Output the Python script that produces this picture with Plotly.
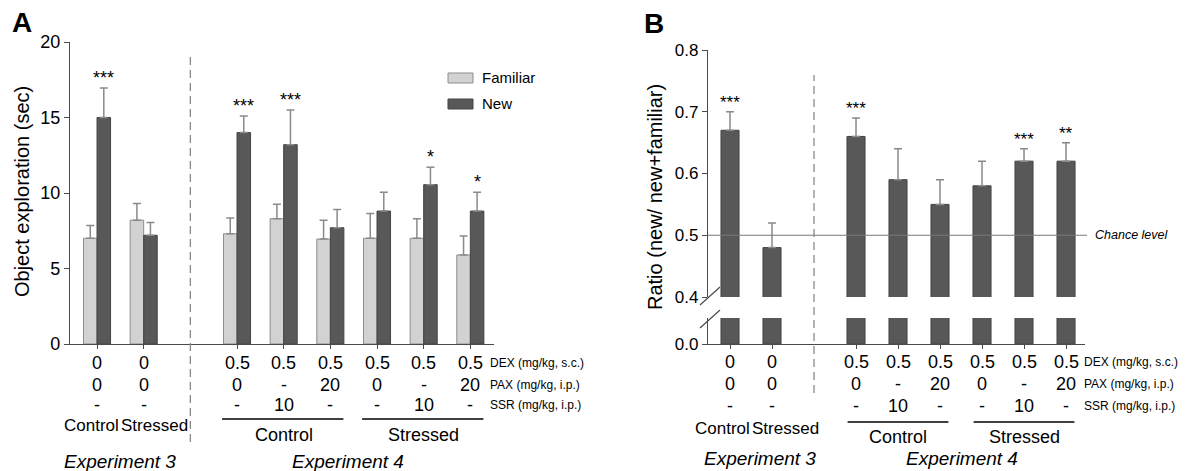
import plotly.graph_objects as go

# ---------------- data ----------------
groups_exp3 = ["Control", "Stressed"]
dex = ["0", "0", "0.5", "0.5", "0.5", "0.5", "0.5", "0.5"]
pax = ["0", "0", "0", "-", "20", "0", "-", "20"]
ssr = ["-", "-", "-", "10", "-", "-", "10", "-"]
row_labels = ["DEX (mg/kg, s.c.)", "PAX (mg/kg, i.p.)", "SSR (mg/kg, i.p.)"]
series_names = ["Familiar", "New"]

familiar = [7.0, 8.2, 7.3, 8.3, 6.95, 7.0, 7.0, 5.9]
familiar_err = [0.85, 1.1, 1.05, 0.95, 1.25, 1.65, 1.3, 1.25]
new = [15.0, 7.2, 14.0, 13.2, 7.7, 8.8, 10.55, 8.8]
new_err = [1.95, 0.85, 1.1, 2.3, 1.2, 1.25, 1.15, 1.25]
stars_a = ["***", "", "***", "***", "", "", "*", "*"]

ratio = [0.67, 0.48, 0.66, 0.59, 0.55, 0.58, 0.62, 0.62]
ratio_err = [0.03, 0.04, 0.03, 0.05, 0.04, 0.04, 0.02, 0.03]
stars_b = ["***", "", "***", "", "", "", "***", "**"]
chance = 0.5

# ---------------- layout helpers ----------------
W, H = 1198, 471
OFF = 8  # page body margin offsets the figure in the browser window
FONT = "Liberation Sans, Arial, Helvetica, sans-serif"
def fx(px):
    return (px - OFF) / W
def fy(py):
    return 1 - (py - OFF) / H

pos = [0, 1, 3, 4, 5, 6, 7, 8]
sep = 2
LIGHT = "#d2d2d2"
DARK = "#585858"
AX = "#4a4a4a"
ERR = "#8a8a8a"

fig = go.Figure()

# Panel A bars
half = 0.145
fig.add_trace(go.Bar(
    x=[p - half for p in pos], y=familiar, width=0.29, name=series_names[0],
    marker=dict(color=LIGHT, line=dict(color="#8c8c8c", width=1)),
    error_y=dict(type="data", array=familiar_err, arrayminus=[0] * len(pos),
                 symmetric=False, color=ERR, thickness=1.5, width=4),
    xaxis="x", yaxis="y", showlegend=False))
fig.add_trace(go.Bar(
    x=[p + half for p in pos], y=new, width=0.29, name=series_names[1],
    marker=dict(color=DARK, line=dict(color="#444444", width=1)),
    error_y=dict(type="data", array=new_err, arrayminus=[0] * len(pos),
                 symmetric=False, color=ERR, thickness=1.5, width=4),
    xaxis="x", yaxis="y", showlegend=False))

# Panel B bars (upper and lower segments of the broken axis)
fig.add_trace(go.Bar(
    x=pos, y=ratio, width=0.43,
    marker=dict(color=DARK, line=dict(color="#444444", width=1)),
    error_y=dict(type="data", array=ratio_err, arrayminus=[0] * len(pos),
                 symmetric=False, color=ERR, thickness=1.5, width=4),
    xaxis="x2", yaxis="y2", showlegend=False))
fig.add_trace(go.Bar(
    x=pos, y=ratio, width=0.43,
    marker=dict(color=DARK, line=dict(color="#444444", width=1)),
    xaxis="x2", yaxis="y3", showlegend=False))

tickfont = dict(family=FONT, size=18, color="black")
common_x = dict(showgrid=False, zeroline=False, showline=True, linecolor=AX, linewidth=1.2,
                tickvals=pos, ticks="outside", ticklen=4, tickcolor=AX, showticklabels=False,
                automargin=False)
common_y = dict(showgrid=False, zeroline=False, showline=True, linecolor=AX, linewidth=1.2,
                ticks="outside", ticklen=5, tickcolor=AX, tickfont=tickfont, automargin=False)
tickfont_b = dict(family=FONT, size=17, color="black")

fig.update_layout(
    width=W, height=H, margin=dict(l=0, r=0, t=0, b=0, pad=0, autoexpand=False),
    paper_bgcolor="white", plot_bgcolor="rgba(0,0,0,0)",
    barmode="overlay", font=dict(family=FONT, color="black"),
    xaxis=dict(domain=[fx(70), fx(494)], range=[-0.579, 8.507], anchor="y", **common_x),
    yaxis=dict(domain=[fy(344), fy(42)], range=[0, 20], tickvals=[0, 5, 10, 15, 20],
               anchor="x", **common_y),
    xaxis2=dict(domain=[fx(708), fx(1085)], range=[-0.524, 8.452], anchor="y3", **common_x),
    yaxis2=dict(domain=[fy(297), fy(50)], range=[0.4, 0.8], tickvals=[0.4, 0.5, 0.6, 0.7, 0.8],
                tickformat=".1f", anchor="x2", **{**common_y, "tickfont": tickfont_b}),
    yaxis3=dict(domain=[fy(344), fy(318)], range=[0, 0.04], tickvals=[0], ticktext=["0.0"],
                anchor="x2", **{**common_y, "tickfont": tickfont_b}),
)

ann = []
shapes = []

def text(x, y, s, size, xref="paper", yref="paper", xanchor="center", yanchor="middle",
         italic=False, bold=False, angle=0, xshift=0, yshift=0):
    if italic:
        s = "<i>" + s + "</i>"
    if bold:
        s = "<b>" + s + "</b>"
    ann.append(dict(x=x, y=y, xref=xref, yref=yref, text=s, showarrow=False,
                    xanchor=xanchor, yanchor=yanchor, textangle=angle,
                    xshift=xshift, yshift=yshift,
                    font=dict(family=FONT, size=size, color="black")))

# Panel letters and y titles
text(fx(22), fy(23), "A", 28, bold=True)
text(fx(654), fy(24), "B", 28, bold=True)
text(fx(22), fy(192), "Object exploration (sec)", 20, angle=-90)
text(fx(655), fy(197), "Ratio (new/ new+familiar)", 20, angle=-90)

# significance stars
for p, v, e, s in zip(pos, new, new_err, stars_a):
    if s:
        text(p + half, v + e, s, 18, xref="x", yref="y", yanchor="bottom", yshift=-2)
for p, v, e, s in zip(pos, ratio, ratio_err, stars_b):
    if s:
        text(p, v + e, s, 17, xref="x2", yref="y2", yanchor="bottom", yshift=-2)

# legend (panel A)
for (y0, y1, col, lc), name in zip([(73, 83, LIGHT, "#8c8c8c"), (99, 109, DARK, "#444444")], series_names):
    shapes.append(dict(type="rect", xref="paper", yref="paper", x0=fx(448), x1=fx(473),
                       y0=fy(y1), y1=fy(y0), fillcolor=col, line=dict(color=lc, width=1)))
    text(fx(480), fy((y0 + y1) / 2), name, 15, xanchor="left")

# chance level (panel B)
shapes.append(dict(type="line", xref="paper", yref="y2", x0=fx(708), x1=fx(1087), y0=chance, y1=chance,
                   line=dict(color="#7a7a7a", width=1), layer="above"))
text(fx(1093), chance, "Chance level", 12.5, yref="y2", xanchor="left", italic=True)

# axis break marks (panel B)
for (x0, y0, x1, y1) in [(700, 305, 720, 287), (700, 328, 720, 310)]:
    shapes.append(dict(type="line", xref="paper", yref="paper", x0=fx(x0), y0=fy(y0),
                       x1=fx(x1), y1=fy(y1), line=dict(color=AX, width=1.2)))

# dashed separators
shapes.append(dict(type="line", xref="x", yref="paper", x0=sep, x1=sep, y0=fy(442), y1=fy(57),
                   line=dict(color="#8a8a8a", width=1.3, dash="8px,5px")))
shapes.append(dict(type="line", xref="x2", yref="paper", x0=sep, x1=sep, y0=fy(393), y1=fy(75),
                   line=dict(color="#8a8a8a", width=1.3, dash="8px,5px")))

# treatment tables
panels = [
    dict(xref="x", rows=[363, 385, 405], label_x=488, cs_y=425, line_y=419, grp_y=435,
         lpad=(0.32, 0.28), exp_y=461, exp3_x=120, exp4_x=348),
    dict(xref="x2", rows=[362, 384, 406], label_x=1082, cs_y=428, line_y=422, grp_y=437,
         lpad=(0.2, 0.2), exp_y=458, exp3_x=760, exp4_x=962),
]
for P in panels:
    for r, (vals, lab) in enumerate(zip([dex, pax, ssr], row_labels)):
        for p, v in zip(pos, vals):
            text(p, fy(P["rows"][r]), v, 18, xref=P["xref"])
        text(fx(P["label_x"]), fy(P["rows"][r]), lab, 12, xanchor="left")
    mid = (pos[0] + pos[1]) / 2
    text(mid, fy(P["cs_y"]), groups_exp3[0], 17, xref=P["xref"], xanchor="right", xshift=1)
    text(mid, fy(P["cs_y"]), groups_exp3[1], 17, xref=P["xref"], xanchor="left", xshift=-1)
    for (a, b), name in zip([(pos[2], pos[4]), (pos[5], pos[7])], groups_exp3):
        shapes.append(dict(type="line", xref=P["xref"], yref="paper", x0=a - P["lpad"][0],
                           x1=b + P["lpad"][1], y0=fy(P["line_y"]), y1=fy(P["line_y"]),
                           line=dict(color="black", width=1.5)))
        text((a + b) / 2, fy(P["grp_y"]), name, 18, xref=P["xref"])
    text(fx(P["exp3_x"]), fy(P["exp_y"]), "Experiment 3", 19, italic=True)
    text(fx(P["exp4_x"]), fy(P["exp_y"]), "Experiment 4", 19, italic=True)

fig.update_layout(annotations=ann, shapes=shapes)
fig.write_html("out.html")
